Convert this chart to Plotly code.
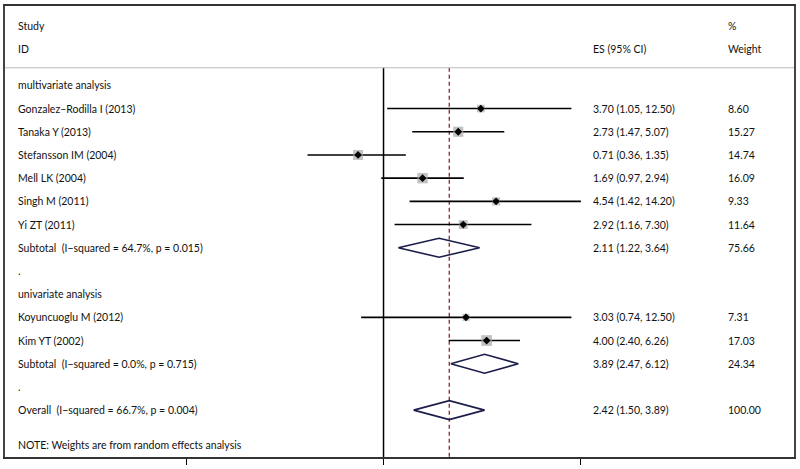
import math
import plotly.graph_objects as go

# ---- data ----
multi_names = ["Gonzalez–Rodilla I (2013)", "Tanaka Y (2013)", "Stefansson IM (2004)",
               "Mell LK (2004)", "Singh M (2011)", "Yi ZT (2011)"]
multi_es = [3.70, 2.73, 0.71, 1.69, 4.54, 2.92]
multi_lo = [1.05, 1.47, 0.36, 0.97, 1.42, 1.16]
multi_hi = [12.50, 5.07, 1.35, 2.94, 14.20, 7.30]
multi_w = [8.60, 15.27, 14.74, 16.09, 9.33, 11.64]
multi_sub = (2.11, 1.22, 3.64, 75.66)
multi_sub_label = "Subtotal\u00a0\u00a0(I−squared = 64.7%, p = 0.015)"

uni_names = ["Koyuncuoglu M (2012)", "Kim YT (2002)"]
uni_es = [3.03, 4.00]
uni_lo = [0.74, 2.40]
uni_hi = [12.50, 6.26]
uni_w = [7.31, 17.03]
uni_sub = (3.89, 2.47, 6.12, 24.34)
uni_sub_label = "Subtotal\u00a0\u00a0(I−squared = 0.0%, p = 0.715)"

overall = (2.42, 1.50, 3.89, 100.00)
overall_label = "Overall\u00a0\u00a0(I−squared = 66.7%, p = 0.004)"

axis_ticks = [1 / 14.2, 1, 14.2]

# ---- row layout ----
rows = []  # (label, kind, values)
rows.append(("multivariate analysis", "head", None))
for n, e, l, h, w in zip(multi_names, multi_es, multi_lo, multi_hi, multi_w):
    rows.append((n, "study", (e, l, h, w)))
rows.append((multi_sub_label, "sub", multi_sub))
rows.append((".", "blank", None))
rows.append(("univariate analysis", "head", None))
for n, e, l, h, w in zip(uni_names, uni_es, uni_lo, uni_hi, uni_w):
    rows.append((n, "study", (e, l, h, w)))
rows.append((uni_sub_label, "sub", uni_sub))
rows.append((".", "blank", None))
rows.append((overall_label, "sub", overall))

fig = go.Figure()
FONT = dict(family="Lato, Open Sans, sans-serif", size=10.5, color="#111")

ann = []
def txt(x, y, s):
    ann.append(dict(x=x, y=y, xref="paper", yref="y", text=s, showarrow=False,
                    xanchor="left", yanchor="middle", font=FONT))

XL, XES, XW = 0.0139, 0.7430, 0.9135
txt(XL, -3.56, "Study")
txt(XL, -2.58, "ID")
txt(XW, -3.56, "%")
txt(XES, -2.58, "ES (95% CI)")
txt(XW, -2.58, "Weight")

start = -1
top_line = -1.76
bottom = 15.021

# reference lines
fig.add_trace(go.Scatter(x=[1, 1], y=[top_line, bottom], mode="lines",
                         line=dict(color="black", width=1.5), hoverinfo="skip"))
fig.add_trace(go.Scatter(x=[overall[0], overall[0]], y=[top_line, bottom], mode="lines",
                         line=dict(color="#8b2a2a", width=1.3, dash="4px,3px"), hoverinfo="skip"))

sq_x, sq_y, sq_s = [], [], []
for i, (lab, kind, v) in enumerate(rows):
    r = start + i
    txt(XL, r, lab)
    if kind == "study":
        e, l, h, w = v
        fig.add_trace(go.Scatter(x=[l, h], y=[r, r], mode="lines",
                                 line=dict(color="black", width=1.6), hoverinfo="skip"))
        sq_x.append(e); sq_y.append(r); sq_s.append(2.6 * math.sqrt(w))
        txt(XES, r, f"{e:.2f} ({l:.2f}, {h:.2f})")
        txt(XW, r, f"{w:.2f}")
    elif kind == "sub":
        e, l, h, w = v
        d = 0.41
        fig.add_trace(go.Scatter(x=[l, e, h, e, l], y=[r, r - d, r, r + d, r], mode="lines",
                                 line=dict(color="#1c1c4a", width=1.6), hoverinfo="skip"))
        txt(XES, r, f"{e:.2f} ({l:.2f}, {h:.2f})")
        txt(XW, r, f"{w:.2f}")

fig.add_trace(go.Scatter(x=sq_x, y=sq_y, mode="markers",
                         marker=dict(symbol="square", size=sq_s, color="#a8a8a8", line=dict(width=0)),
                         hoverinfo="skip"))
fig.add_trace(go.Scatter(x=sq_x, y=sq_y, mode="markers",
                         marker=dict(symbol="diamond", size=6, color="black"), hoverinfo="skip"))

txt(XL, 14.5, "NOTE: Weights are from random effects analysis")

# header separator line
fig.add_shape(type="line", xref="paper", yref="y", x0=0, x1=1, y0=top_line, y1=top_line,
              line=dict(color="#bbbbbb", width=1.2))

fig.update_layout(
    width=800, height=469,
    margin=dict(l=5, r=5, t=4, b=12),
    paper_bgcolor="white", plot_bgcolor="white",
    showlegend=False,
    annotations=ann,
    xaxis=dict(type="log", range=[-2.210, 2.3965], tickvals=axis_ticks, ticks="outside",
               ticklen=6, tickcolor="black", tickwidth=1.3, showticklabels=False,
               showgrid=False, zeroline=False, showline=True, linecolor="#333", linewidth=1.5,
               mirror=True),
    yaxis=dict(range=[bottom, -4.421], showgrid=False, zeroline=False, showticklabels=False,
               showline=True, linecolor="#444", linewidth=1.5, mirror=True),
)

fig.write_html("out.html", config={"displayModeBar": False},
               post_script="document.body.style.margin='0';document.body.style.overflow='hidden';")
